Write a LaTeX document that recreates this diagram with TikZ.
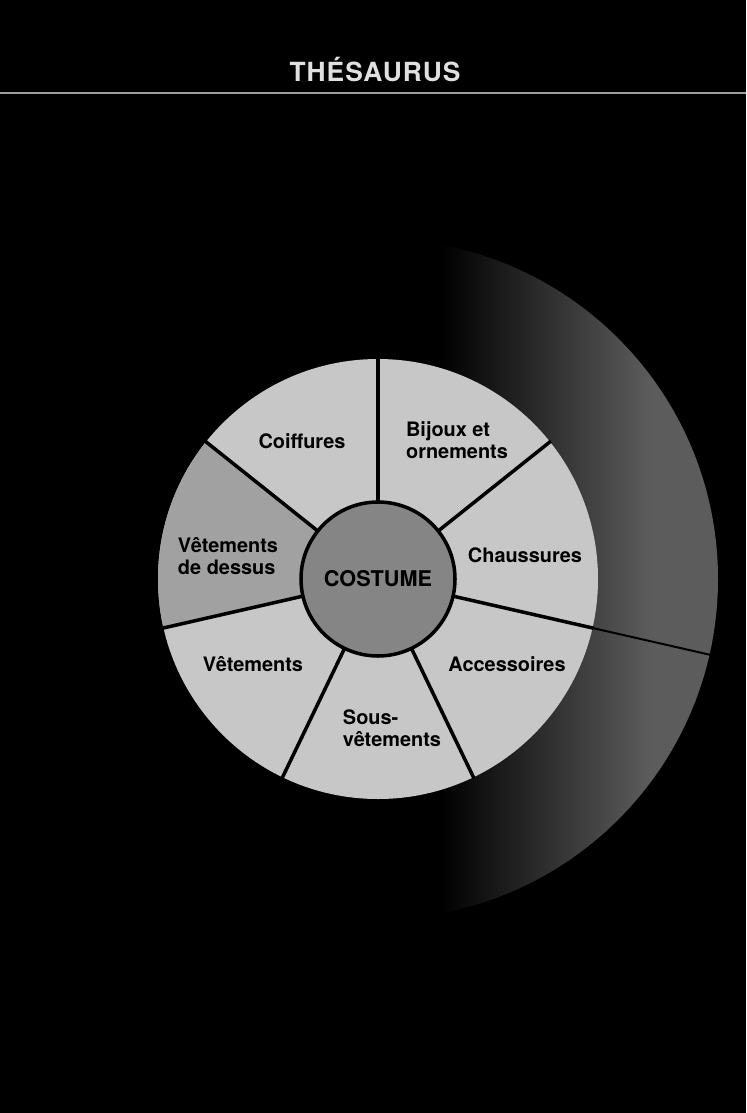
\documentclass[tikz,border=0pt]{standalone}
\usepackage{fontspec}
\setsansfont{TeX Gyre Heros}
\usetikzlibrary{calc}

\definecolor{disc}{gray}{0.78}
\definecolor{discdark}{gray}{0.63}
\definecolor{hub}{gray}{0.52}
\definecolor{shadowgray}{gray}{0.36}
\definecolor{rulegray}{gray}{0.62}

\tikzset{
  lab/.style={font=\sffamily\bfseries\fontsize{17}{19}\selectfont,text=black,align=left,inner sep=0pt},
  spoke/.style={line width=3pt,black}
}

\begin{document}
\begin{tikzpicture}[x=0.03cm,y=-0.03cm]

\useasboundingbox (0,0) rectangle (746,1113);
\fill[black] (0,0) rectangle (746,1113);

% Title
\node[font=\sffamily\bfseries\fontsize{22.5}{24}\selectfont\addfontfeatures{LetterSpace=4},
      text=white!88!black] (title) at (375,70) {THÉSAURUS};
\draw[rulegray,line width=1.6pt] (0,93) -- (746,93);

\coordinate (c) at (378,579);

% Shadow behind the wheel
\begin{scope}
  \clip (c) circle (340);
  \shade[left color=black,right color=shadowgray] (440,200) rectangle (650,1000);
  \fill[shadowgray] (650,200) rectangle (740,1000);
\end{scope}
\draw[black,line width=1.7pt] ($(c)+(12.86:215)$) -- ($(c)+(12.86:342)$);

% Wheel
\fill[disc] (c) circle (220);
\fill[discdark] (c) -- ($(c)+(167.14:220)$) arc[start angle=167.14,end angle=218.57,radius=220] -- cycle;

% Spokes
\foreach \k in {0,...,6}
{
  \draw[spoke] ($(c)+(\k*51.4286-90:70)$) -- ($(c)+(\k*51.4286-90:221)$);
}

% Hub
\node[circle,draw=black,line width=3pt,fill=hub,minimum size=154*0.03cm,inner sep=0pt,
      font=\sffamily\bfseries\fontsize{18.5}{20}\selectfont] (costume) at (c) {COSTUME};

% Sectors
\node[lab] (coiffures) at (302,441) {Coiffures};
\node[lab] (bijoux) at (457,440) {Bijoux et\\ornements};
\node[lab] (chaussures) at (525,555) {Chaussures};
\node[lab] (accessoires) at (507,664) {Accessoires};
\node[lab] (sousvet) at (392,728) {Sous-\\vêtements};
\node[lab] (vetements) at (253,664) {Vêtements};
\node[lab] (dessus) at (228,556) {Vêtements\\de dessus};

\end{tikzpicture}
\end{document}
